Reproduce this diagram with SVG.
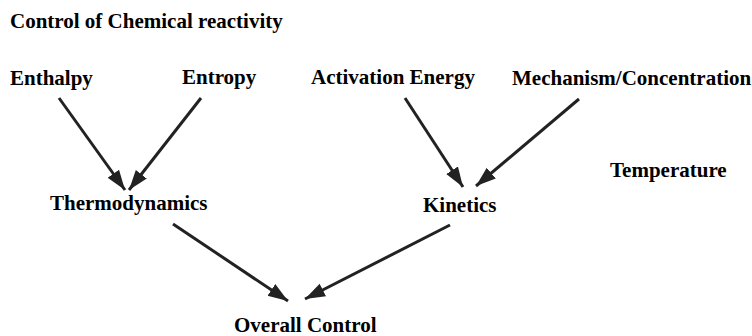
<svg xmlns="http://www.w3.org/2000/svg" width="752" height="336" viewBox="0 0 752 336">
<style>
text{font-family:"Liberation Serif","Times New Roman",serif;font-weight:bold;font-size:21px;fill:#000}
.c line{stroke:#222;stroke-width:3;fill:none}
</style>
<defs>
<marker id="ah" markerUnits="userSpaceOnUse" markerWidth="22" markerHeight="18" viewBox="0 0 22 18" refX="20" refY="9" orient="auto">
<path d="M0,2 L20,9 L0,16 Z" fill="#222"/>
</marker>
</defs>
<rect width="752" height="336" fill="#fff"/>
<g id="title"><text x="10" y="28">Control of Chemical reactivity</text></g>
<g id="enthalpy"><text x="10" y="85">Enthalpy</text></g>
<g id="entropy"><text x="182" y="84">Entropy</text></g>
<g id="activation"><text x="311" y="84">Activation Energy</text></g>
<g id="mechanism"><text x="512" y="85">Mechanism/Concentration</text></g>
<g id="temperature"><text x="610" y="177">Temperature</text></g>
<g id="thermodynamics"><text x="50" y="210">Thermodynamics</text></g>
<g id="kinetics"><text x="423" y="212">Kinetics</text></g>
<g id="overall"><text x="234" y="332">Overall Control</text></g>
<g class="c" id="connectors">
<line x1="59" y1="98" x2="125" y2="190" marker-end="url(#ah)"/>
<line x1="201" y1="98" x2="129" y2="190" marker-end="url(#ah)"/>
<line x1="405" y1="98" x2="463" y2="187" marker-end="url(#ah)"/>
<line x1="579" y1="99" x2="476" y2="186" marker-end="url(#ah)"/>
<line x1="173" y1="224" x2="288" y2="301" marker-end="url(#ah)"/>
<line x1="450" y1="225" x2="305" y2="299" marker-end="url(#ah)"/>
</g>
</svg>
